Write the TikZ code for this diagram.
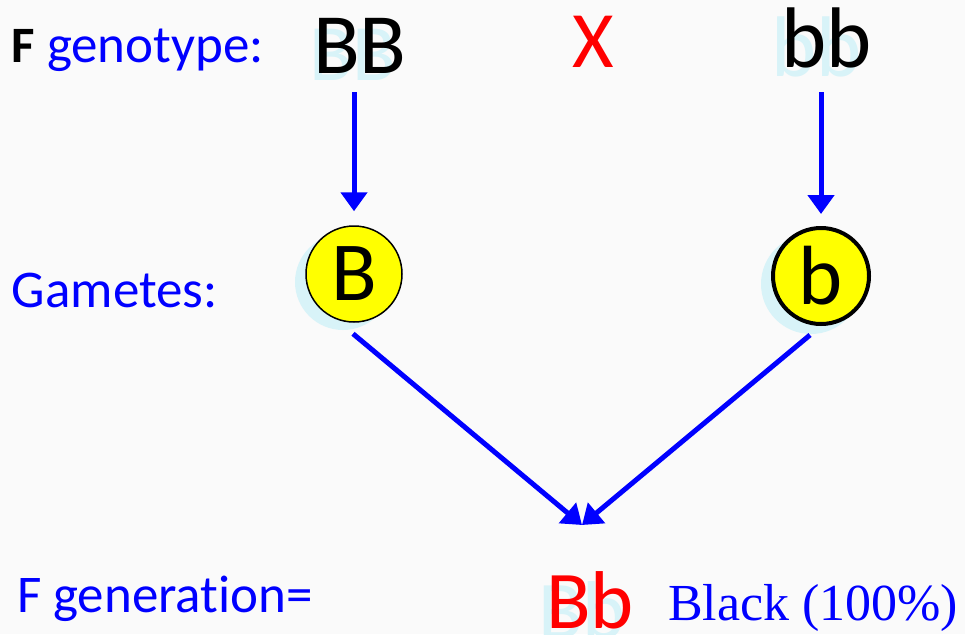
\documentclass[tikz,border=0pt]{standalone}
\usepackage{fontspec}
\setmainfont[Ligatures=NoCommon]{Carlito}
\newfontfamily\serifb{Liberation Serif}
\usetikzlibrary{arrows.meta}
\definecolor{bgc}{RGB}{250,250,250}
\definecolor{shade}{RGB}{216,243,248}
\definecolor{pblue}{RGB}{0,0,255}
\definecolor{pred}{RGB}{255,0,0}
\definecolor{pyel}{RGB}{255,255,0}
\tikzset{
  lbl/.style={anchor=base west, inner sep=0pt, outer sep=0pt, text=pblue, font=\fontsize{53}{60}\selectfont},
  big/.style={anchor=base west, inner sep=0pt, outer sep=0pt, font=\fontsize{86}{100}\selectfont},
  gamete/.style={circle, fill=pyel, draw=black, minimum size=96pt, inner sep=0pt, font=\fontsize{84}{100}\selectfont},
  gshadow/.style={circle, fill=shade, minimum size=96pt, inner sep=0pt},
  arr/.style={draw=pblue, line width=5pt, -{Triangle[length=19pt,width=26pt]}}
}
\begin{document}
\begin{tikzpicture}[x=1pt,y=-1pt]
\fill[bgc] (0,0) rectangle (965,634);
\useasboundingbox (0,0) rectangle (965,634);
% top row
\node[lbl, text=black, font=\fontsize{51}{60}\selectfont\bfseries] (Fa) at (12,63) {F};
\node[lbl] (geno) at (47,63) {genotype:};
\node[big, text=shade, font=\fontsize{80}{100}\selectfont] (BBs) at (309,80) {BB};
\node[big, text=black] (BB) at (313,73) {BB};
\node[big, text=pred, font=\fontsize{80}{100}\selectfont] (X) at (572,67) {X};
\node[big, text=shade] (bbs) at (771,76) {bb};
\node[big, text=black] (bb) at (781,67) {bb};
% gametes
\node[lbl] (gam) at (12,307) {Gametes:};
\node[gshadow] (gBs) at (343,282) {};
\node[gamete, line width=1.5pt] (gB) at (354,274) {B};
\node[gshadow, minimum size=100pt] (gbs) at (811,284) {};
\node[gamete, line width=4pt, minimum size=96pt] (gb) at (821,276) {b};
% arrows
\draw[arr] (gB.north |- 0,92) -- ([yshift=14pt]gB.north);
\draw[arr] (gb.north |- 0,92) -- ([yshift=12pt]gb.north);
\coordinate (meet) at (582,525);
\draw[arr] ([shift={(-1,11)}]gB.south) -- (meet);
\draw[arr] ([shift={(-11,9)}]gb.south) -- (meet);
% bottom row
\node[lbl] (gen) at (17,612) {F generation=};
\node[big, text=shade, font=\fontsize{82}{100}\selectfont] (Bbs) at (538,638) {Bb};
\node[big, text=pred, font=\fontsize{82}{100}\selectfont] (Bb) at (546,628) {Bb};
\node[lbl, font=\fontsize{52}{60}\selectfont\serifb] (black) at (668,620) {Black (100\%)};
\end{tikzpicture}
\end{document}
